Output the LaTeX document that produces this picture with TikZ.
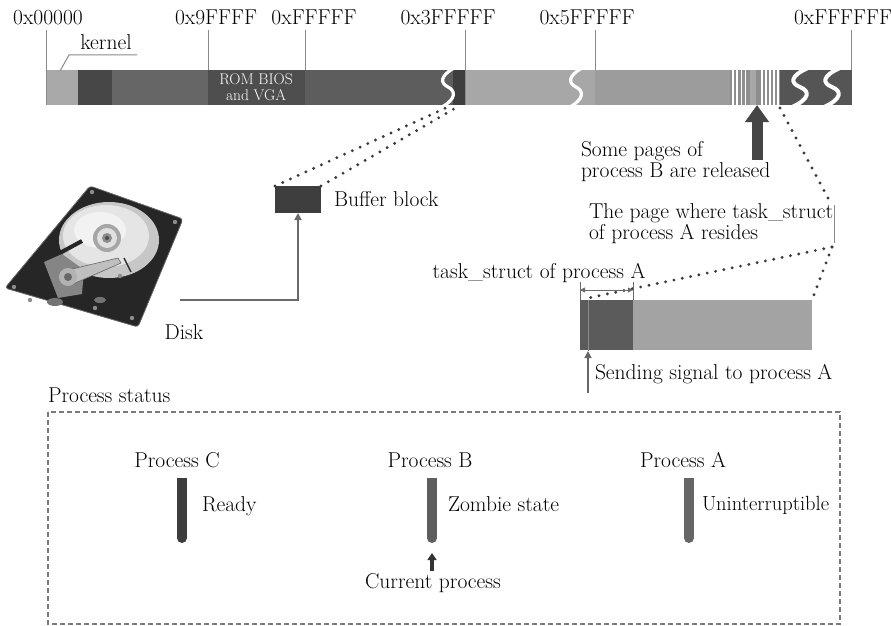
\documentclass[tikz,border=0pt]{standalone}
\usetikzlibrary{arrows.meta,calc}
% greys of the memory bar
\definecolor{segLight}{HTML}{A9A9A9}
\definecolor{segKernel}{HTML}{474747}
\definecolor{segMid}{HTML}{666666}
\definecolor{segRom}{HTML}{4E4E4E}
\definecolor{segHigh}{HTML}{5D5D5D}
\definecolor{segBuf}{HTML}{3E3E3E}
\definecolor{segFree}{HTML}{A7A7A7}
\definecolor{segUser}{HTML}{9C9C9C}
\definecolor{segStripe}{HTML}{8E8E8E}
\definecolor{segEnd}{HTML}{555555}
% other greys
\definecolor{tickGray}{HTML}{8A8A8A}
\definecolor{dotGray}{HTML}{3A3A3A}
\definecolor{connGray}{HTML}{6A6A6A}
\definecolor{arrowDark}{HTML}{454545}
\definecolor{pageDark}{HTML}{5B5B5B}
\definecolor{pageLight}{HTML}{A3A3A3}
\definecolor{barC}{HTML}{3D3D3D}
\definecolor{barB}{HTML}{5E5E5E}
\definecolor{barA}{HTML}{666666}
\definecolor{boxGray}{HTML}{7A7A7A}
\begin{document}
\begin{tikzpicture}[x=1pt,y=-1pt,
  every node/.style={inner sep=0pt,outer sep=0pt,font=\fontsize{21.5}{21}\selectfont},
  tickline/.style={draw=tickGray,line width=0.9pt},
  dotline/.style={draw=dotGray,line width=3.2pt,line cap=round,dash pattern=on 0pt off 8.5pt},
  breakline/.style={draw=white,line width=3.2pt},
  conn/.style={draw=connGray,line width=1.8pt},
  smalltip/.style={-{Triangle[width=7pt,length=7pt]}},
  pbar/.style={line width=10pt,line cap=round},
  blockfill/.style={draw=none,minimum width=#1}]
\useasboundingbox (0,0) rectangle (891,626);

% ---------- address labels and ticks ----------
\node[anchor=base] (a0)  at (48,25)  {0x00000};
\node[anchor=base] (a9)  at (216,25) {0x9FFFF};
\node[anchor=base] (aF)  at (314,25) {0xFFFFF};
\node[anchor=base] (a3F) at (448,25) {0x3FFFFF};
\node[anchor=base] (a5F) at (587,25) {0x5FFFFF};
\node[anchor=base] (aFF) at (843,25) {0xFFFFFF};

% ---------- memory bar ----------
\fill[segLight]  (46,70)  rectangle (78,105);
\fill[segKernel] (78,70)  rectangle (112,105);
\fill[segMid]    (112,70) rectangle (208,105);
\fill[segRom]    (208,70) rectangle (305,105);
\fill[segHigh]   (305,70) rectangle (453,105);
\fill[segBuf]    (453,70) rectangle (465,105);
\fill[segFree]   (465,70) rectangle (595,105);
\fill[segUser]   (595,70) rectangle (730,105);
\fill[segStripe] (730,70) rectangle (780,105);
\fill[segFree]   (750,70) rectangle (756,105);
\fill[segEnd]    (780,70) rectangle (852,105);
\foreach \x in {733,737,741.5,745.5,762,766,770,774,778}
  \draw[white,line width=1.3pt] (\x,70) -- (\x,105);

% ticks
\draw[tickline] (46,30) -- (46,105);
\draw[tickline] (208,30) -- (208,70);
\draw[tickline] (305,30) -- (305,70);
\draw[tickline] (465,30) -- (465,105);
\draw[tickline] (595,30) -- (595,70);
\draw[tickline] (851,30) -- (851,70);

% breaks in the bar
\draw[breakline] (454,68) .. controls (440,76) and (440,83) .. (448,87)
                 .. controls (456,91) and (456,99) .. (442,107);
\draw[breakline] (582,68) .. controls (568,76) and (568,83) .. (576,87)
                 .. controls (584,91) and (584,99) .. (570,107);
\draw[breakline,line width=4pt] (808,68) .. controls (790,76) and (790,83) .. (800,87)
                 .. controls (810,91) and (810,99) .. (792,107);
\draw[breakline,line width=4pt] (840,68) .. controls (822,76) and (822,83) .. (832,87)
                 .. controls (842,91) and (842,99) .. (824,107);

\node[align=center,text=white,font=\fontsize{15.5}{16.5}\selectfont] (rom) at (256,87) {ROM BIOS\\and VGA};

% kernel label with its leader
\node[anchor=base] (kernelLbl) at (106,49) {kernel};
\coordinate (kernelPin) at (60,71);
\coordinate (kernelEnd) at (137,55);
\draw[draw=tickGray,line width=1pt] (kernelPin) -- (69,55) -- (kernelEnd);

% ---------- buffer block ----------
\node[blockfill=46pt,minimum height=27pt,fill=segBuf] (buf) at (298,199.5) {};
\node[anchor=base west] (bufLbl) at (334,206) {Buffer block};
\coordinate (bufSrcL) at (450,106);
\coordinate (bufSrcR) at (459,106);
\draw[dotline] (buf.north west) -- (bufSrcL);
\draw[dotline] (buf.north east) -- (bufSrcR);

% ---------- disk ----------
\begin{scope}
  \fill[black!85,rounded corners=3pt] (90,186) -- (183,219) -- (138,327) -- (5,288) -- cycle;
  \draw[black!60,line width=0.8pt,rounded corners=3pt] (90,186) -- (183,219) -- (138,327) -- (5,288) -- cycle;
  \fill[black!22] (109,240) ellipse [x radius=50,y radius=38];
  \fill[black!10] (106,236) ellipse [x radius=43,y radius=31];
  \fill[black!5] (100,230) ellipse [x radius=26,y radius=18];
  \fill[black!35] (107,238) circle [radius=14];
  \fill[black!12] (107,238) circle [radius=10];
  \fill[black!45] (107,238) circle [radius=5];
  \fill[black!70] (107,238) circle [radius=2];
  \draw[black!85,line width=4pt] (58,254) -- (82,241);
  \fill[black!48] (44,262) -- (62,254) -- (84,270) -- (82,294) -- (58,298) -- cycle;
  \fill[black!25] (68,270) -- (118,258) -- (121,263) -- (73,284) -- cycle;
  \draw[black!60,line width=0.6pt] (68,270) -- (118,258) -- (121,263) -- (73,284) -- cycle;
  \fill[black!30] (68,277) circle [radius=9];
  \fill[black!60] (68,277) circle [radius=4];
  \draw[black!80,line width=1.5pt] (124,258) -- (131,272);
  \foreach \p in {(92,192),(175,222),(14,287),(132,318),(120,276),(30,300),(95,308)}
    \fill[black!45] \p circle [radius=2.2];
  \fill[black!55] (55,302) ellipse [x radius=8,y radius=4];
  \fill[black!55] (100,300) ellipse [x radius=6,y radius=3];
\end{scope}
\node[anchor=base] (diskLbl) at (184,339) {Disk};
\coordinate (diskOut) at (180,300);
\draw[conn,smalltip] (diskOut) -| (buf.south);

% ---------- released pages of process B ----------
\coordinate (relBase) at (757,160);
\coordinate (relTip) at (757,105);
\draw[draw=arrowDark,line width=11pt,-{Triangle[width=23pt,length=17pt]}] (relBase) -- (relTip);
\node[anchor=north west,align=left] (relLbl) at (581,141) {Some pages of\\process B are released};

% ---------- page holding task_struct of process A ----------
\node[anchor=north west,align=left] (pageLbl) at (589,204) {The page where task\_struct\\of process A resides};
\coordinate (stripeEnd) at (780,108);
\coordinate (pageBrTop) at (834,205);
\coordinate (pageBrBot) at (834,243);
\coordinate (fanPoint) at (832,247);
\draw[dotline] (stripeEnd) -- (828,198);
\draw[draw=tickGray,line width=1pt] (pageBrTop) -- (pageBrBot);

\node[blockfill=53pt,minimum height=50pt,fill=pageDark]  (pgDark)  at (606.5,325) {};
\node[blockfill=179pt,minimum height=50pt,fill=pageLight] (pgLight) at (722.5,325) {};
\coordinate (tsFanEnd) at (588,298);
\draw[dotline] (fanPoint) -- (tsFanEnd);
\draw[dotline] (fanPoint) -- (pgLight.north east);

% task_struct extent
\node[anchor=base] (tsLbl) at (539,278) {task\_struct of process A};
\draw[draw=connGray,line width=0.9pt] (pgDark.north west) -- ++(0,-18);
\draw[draw=connGray,line width=0.9pt] (pgDark.north east) -- ++(0,-18);
\draw[draw=connGray,line width=0.9pt,{Triangle[width=5pt,length=5pt]}-{Triangle[width=5pt,length=5pt]}]
  ($(pgDark.north west)+(0,-10)$) -- ($(pgDark.north east)+(0,-10)$);

% signal to process A
\coordinate (sigFoot) at (588,393);
\coordinate (sigHead) at (588,351);
\draw[draw=black!45,line width=1pt] (588,300) -- (sigHead);
\draw[draw=black!60,line width=1.5pt,smalltip] (sigFoot) -- (sigHead);
\node[anchor=base west] (sigLbl) at (595,379) {Sending signal to process A};

% ---------- process status ----------
\node[anchor=base west] (statusLbl) at (48,402) {Process status};
\draw[draw=boxGray,line width=1.3pt,dash pattern=on 5pt off 3pt] (48,412) rectangle (840,624);

\node[anchor=base] (procC) at (177,467) {Process C};
\node[anchor=base] (procB) at (430,467) {Process B};
\node[anchor=base] (procA) at (683,467) {Process A};

\fill[barC] (177,478) rectangle (187,490);
\draw[pbar,draw=barC] (182,484) -- (182,538);
\fill[barB] (427,478) rectangle (437,490);
\draw[pbar,draw=barB] (432,484) -- (432,538);
\fill[barA] (684,478) rectangle (694,490);
\draw[pbar,draw=barA] (689,484) -- (689,538);

\node[anchor=base west] (readyLbl)  at (202,511) {Ready};
\node[anchor=base west] (zombieLbl) at (448,511) {Zombie state};
\node[anchor=base west,font=\fontsize{20.5}{21}\selectfont] (uninLbl) at (702,510) {Uninterruptible};

\coordinate (curFoot) at (432,571);
\coordinate (curTip) at (432,553);
\draw[draw=black!80,line width=3.5pt,-{Triangle[width=9pt,length=7pt]}] (curFoot) -- (curTip);
\node[anchor=base] (curLbl) at (433,588) {Current process};
\end{tikzpicture}
\end{document}
